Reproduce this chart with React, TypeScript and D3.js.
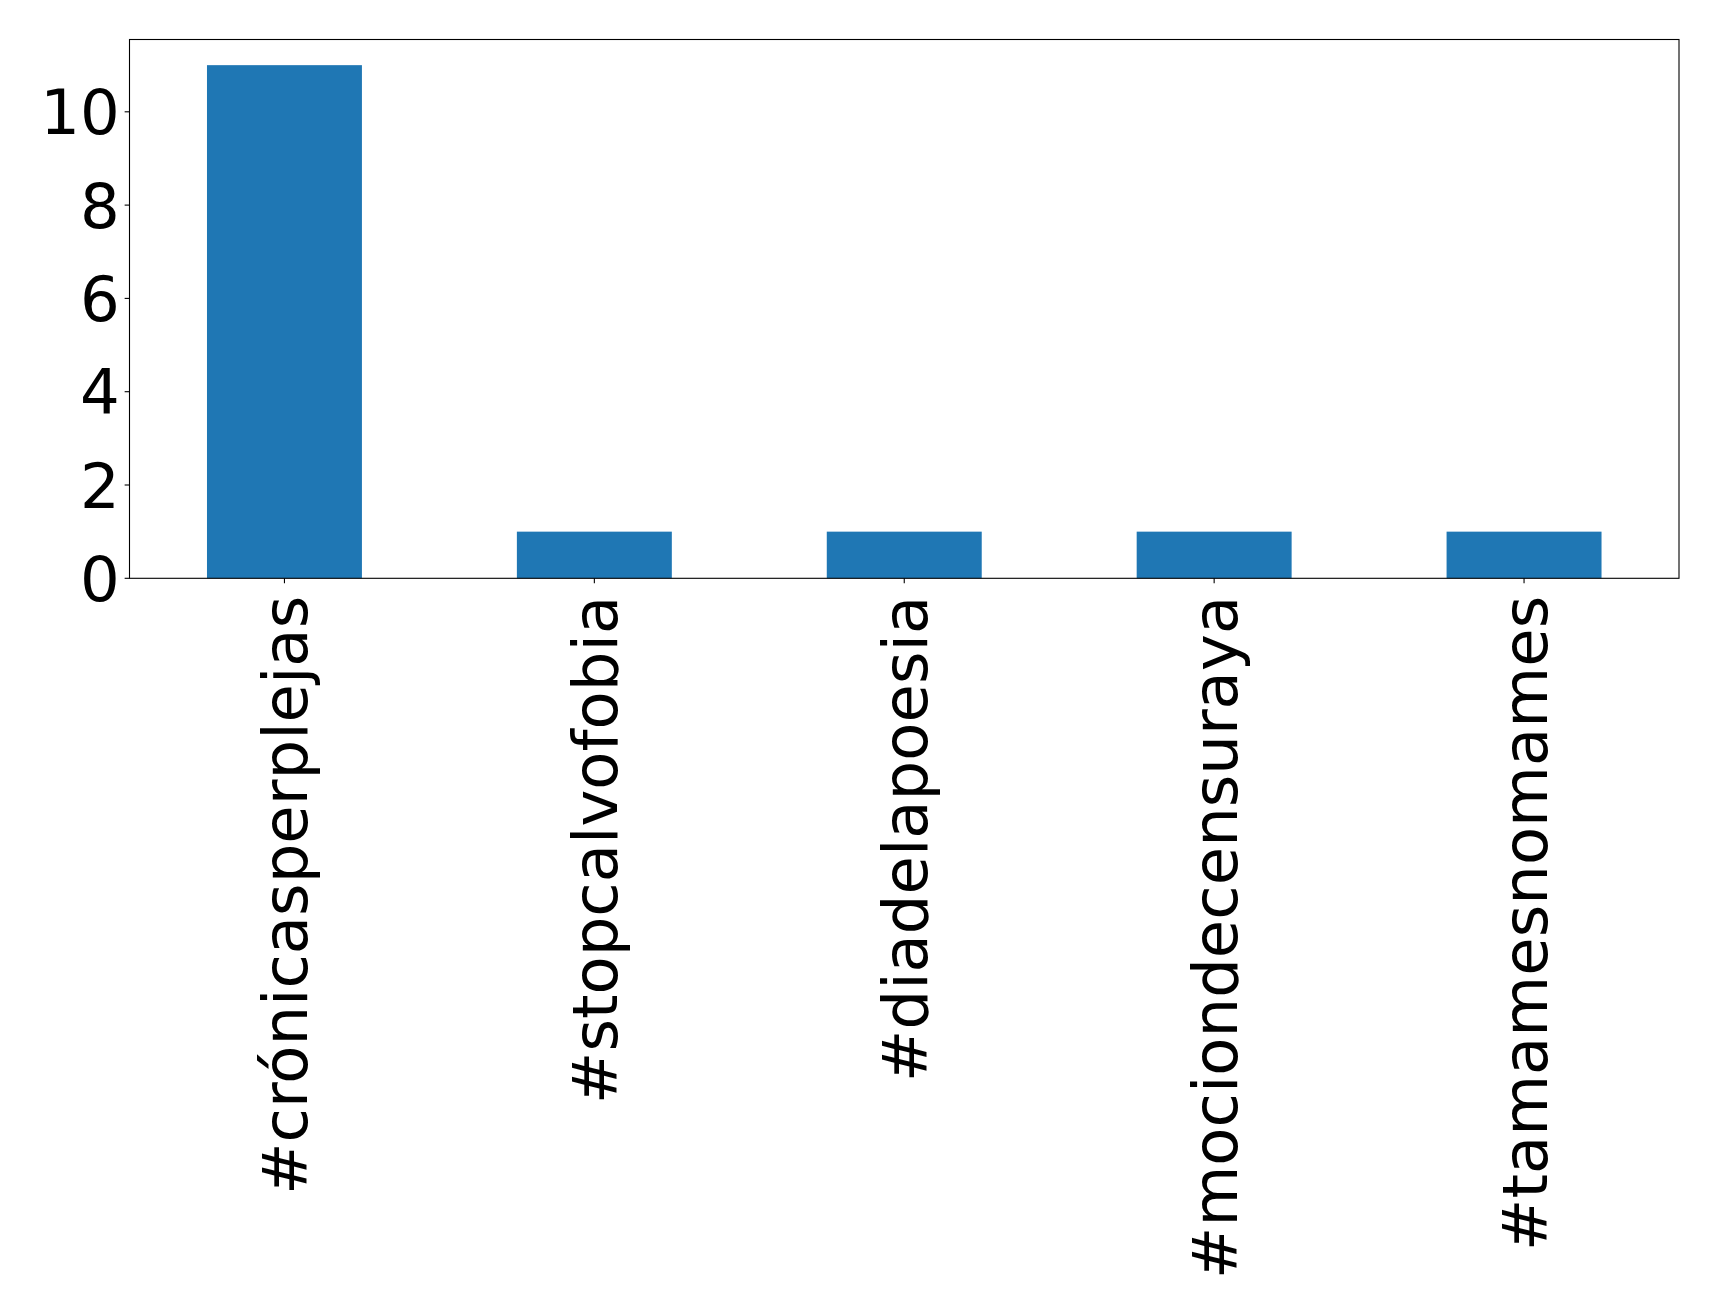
import React from "react";
import * as d3 from "d3";

const categories = ["#crónicasperplejas", "#stopcalvofobia", "#diadelapoesia", "#mociondecensuraya", "#tamamesnomames"];
const counts = [11, 1, 1, 1, 1];
const yTicks = [0, 2, 4, 6, 8, 10];

const W = 1719;
const H = 1311;
const M = { left: 129.5, top: 39.5, right: 1679, bottom: 578.3 };
const FONT = "DejaVu Sans, sans-serif";
const FS = 62.5;

export default function App() {
  const x = d3.scaleLinear().domain([-0.5, categories.length - 0.5]).range([M.left, M.right]);
  const y = d3.scaleLinear().domain([0, 11.55]).range([M.bottom, M.top]);
  const bw = x(0.25) - x(-0.25);
  const tick = 4.86;
  const pad = 4.86;
  return (
    <svg width={W} height={H} style={{ position: "absolute", left: 0, top: 0, background: "#fff" }}>
      <rect x={0} y={0} width={W} height={H} fill="#fff" />
      {counts.map((v, i) => (
        <rect key={i} x={x(i) - bw / 2} y={y(v)} width={bw} height={y(0) - y(v)} fill="#1f77b4" />
      ))}
      <rect x={M.left} y={M.top} width={M.right - M.left} height={M.bottom - M.top} fill="none" stroke="#000" strokeWidth={1.1} />
      {yTicks.map((t) => (
        <g key={t}>
          <line x1={M.left - tick} x2={M.left} y1={y(t)} y2={y(t)} stroke="#000" strokeWidth={1.1} />
          <text x={M.left - tick - pad} y={y(t)} dy="0.36em" textAnchor="end" fontFamily={FONT} fontSize={FS} fill="#000">
            {t}
          </text>
        </g>
      ))}
      {categories.map((c, i) => (
        <g key={c}>
          <line x1={x(i)} x2={x(i)} y1={M.bottom} y2={M.bottom + tick} stroke="#000" strokeWidth={1.1} />
          <text
            transform={`translate(${x(i)},${M.bottom + 17.5}) rotate(-90)`}
            dy="0.36em"
            textAnchor="end"
            fontFamily={FONT}
            fontSize={FS}
            fill="#000"
          >
            {c}
          </text>
        </g>
      ))}
    </svg>
  );
}
